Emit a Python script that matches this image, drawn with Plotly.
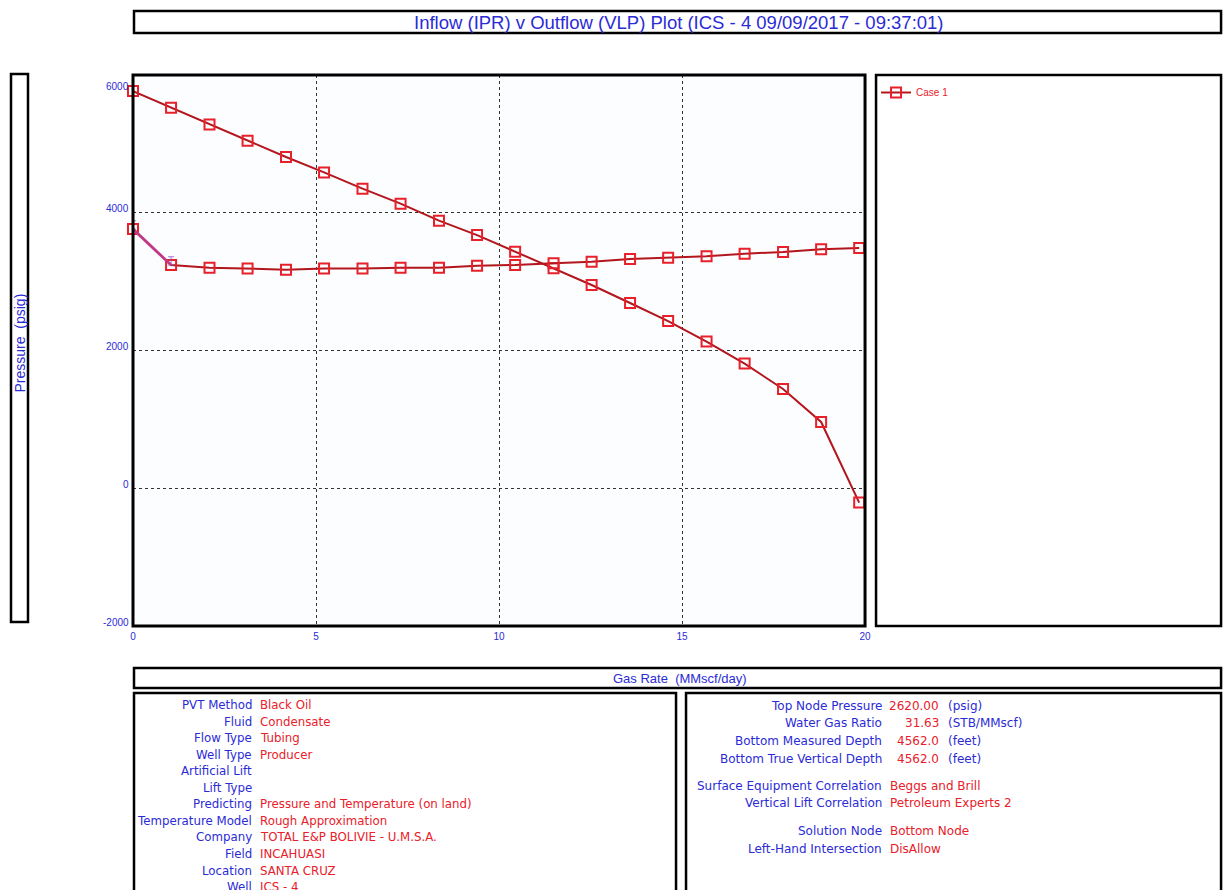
import plotly.graph_objects as go

# ---- data -------------------------------------------------------------
gas_rate = [0.0, 1.04, 2.09, 3.13, 4.18, 5.22, 6.27, 7.31, 8.36, 9.40,
            10.44, 11.49, 12.53, 13.58, 14.62, 15.67, 16.71, 17.76, 18.80, 19.84]
ipr_pressure = [5766, 5525, 5283, 5046, 4809, 4586, 4350, 4132, 3885, 3676,
                3435, 3193, 2951, 2690, 2428, 2129, 1810, 1441, 962, -208]
vlp_pressure = [3763, 3241, 3203, 3189, 3174, 3189, 3189, 3203, 3203, 3232,
                3241, 3266, 3290, 3328, 3348, 3367, 3406, 3430, 3469, 3488]
# first VLP segment (stable-region marker)
vlp_start_rate = [0.0, 1.04]
vlp_start_pressure = [3763, 3241]
vlp_start_err = [120, 120]

x_ticks = [0, 5, 10, 15, 20]
y_ticks = [-2000, 0, 2000, 4000, 6000]

title_text = "Inflow (IPR) v Outflow (VLP) Plot (ICS - 4 09/09/2017 - 09:37:01)"
x_title = "Gas Rate  (MMscf/day)"
y_title = "Pressure  (psig)"
case_name = "Case 1"

left_labels = ["PVT Method", "Fluid", "Flow Type", "Well Type", "Artificial Lift",
               "Lift Type", "Predicting", "Temperature Model", "Company", "Field",
               "Location", "Well"]
left_values = ["Black Oil", "Condensate", "Tubing", "Producer", "", "",
               "Pressure and Temperature (on land)", "Rough Approximation",
               "TOTAL E&P BOLIVIE - U.M.S.A.", "INCAHUASI", "SANTA CRUZ", "ICS - 4"]

right_labels = ["Top Node Pressure", "Water Gas Ratio", "Bottom Measured Depth",
                "Bottom True Vertical Depth", "Surface Equipment Correlation",
                "Vertical Lift Correlation", "Solution Node", "Left-Hand Intersection"]
right_numbers = ["2620.00", "31.63", "4562.0", "4562.0", "", "", "", ""]
right_units = ["(psig)", "(STB/MMscf)", "(feet)", "(feet)", "", "", "", ""]
right_texts = ["", "", "", "", "Beggs and Brill", "Petroleum Experts 2",
               "Bottom Node", "DisAllow"]

# ---- page geometry (pixels) ------------------------------------------
W, H = 1224, 890
SX, OX = 0.9926, 3.0      # horizontal screen-to-layout calibration
BLUE = "#2b2bd6"
RED = "#e8202a"
LINE_RED = "#b3161c"
NARROW = "Liberation Sans Narrow, Arial Narrow, Liberation Sans, Arial, sans-serif"
SANS = "DejaVu Sans, Verdana, sans-serif"

def px(x):
    return ((x - OX) / SX) / W

def py(y):
    return 1 - y / H

plot_l, plot_r, plot_t, plot_b = 133, 865, 75, 626

fig = go.Figure()

fig.add_trace(go.Scatter(
    x=gas_rate, y=ipr_pressure, mode="lines+markers", name=case_name,
    line=dict(color=LINE_RED, width=2),
    marker=dict(symbol="square-open", size=10, color=RED, line=dict(width=2, color=RED)),
    cliponaxis=False,
))
fig.add_trace(go.Scatter(
    x=gas_rate, y=vlp_pressure, mode="lines+markers", showlegend=False,
    line=dict(color=LINE_RED, width=2),
    marker=dict(symbol="square-open", size=10, color=RED, line=dict(width=2, color=RED)),
    cliponaxis=False,
))
fig.add_trace(go.Scatter(
    x=vlp_start_rate, y=vlp_start_pressure, mode="lines", showlegend=False,
    line=dict(color="#c0409a", width=3),
    error_y=dict(type="data", array=vlp_start_err, arrayminus=[0, 0],
                 color="#8a5ac8", thickness=1, width=3),
    opacity=0.8, cliponaxis=False,
))

shapes = []

def box(x0, y0, x1, y1, w=2.5):
    shapes.append(dict(type="rect", xref="paper", yref="paper",
                       x0=px(x0), x1=px(x1), y0=py(y1), y1=py(y0),
                       line=dict(color="black", width=w), fillcolor="rgba(0,0,0,0)",
                       layer="above"))

box(134, 11, 1221, 33)            # title box
box(11, 74, 28, 622)              # y title box
box(plot_l, plot_t, plot_r, plot_b, 3)   # plot frame
box(876, 75, 1221, 626)           # legend frame
box(134, 668, 1221, 688)          # x title box
box(134, 693, 676, 892)           # left info box
box(686, 693, 1221, 892)          # right info box

ann = []
ann.append(dict(text=title_text, x=px(679), y=py(22), xref="paper", yref="paper",
                showarrow=False, font=dict(family=NARROW, size=18.5, color=BLUE),
                xanchor="center", yanchor="middle"))
ann.append(dict(text=y_title, x=px(19.5), y=py(343), xref="paper", yref="paper",
                showarrow=False, textangle=-90, font=dict(family=NARROW, size=14, color=BLUE),
                xanchor="center", yanchor="middle"))
ann.append(dict(text=x_title, x=px(680), y=py(678), xref="paper", yref="paper",
                showarrow=False, font=dict(family=NARROW, size=13, color=BLUE),
                xanchor="center", yanchor="middle"))

# y tick labels sit just above their gridlines; the top one is kept inside the frame
for v in y_ticks:
    shift = -12 if v == max(y_ticks) else 4
    ann.append(dict(text=str(v), x=px(plot_l - 2), y=v, xref="paper", yref="y",
                    showarrow=False, font=dict(family=NARROW, size=10, color=BLUE),
                    xanchor="right", yanchor="middle", yshift=shift))

# left info block
row_y0, row_dy = 705, 16.55
for i, (lab, val) in enumerate(zip(left_labels, left_values)):
    yy = py(row_y0 + i * row_dy)
    ann.append(dict(text=lab, x=px(254), y=yy, xref="paper", yref="paper", showarrow=False,
                    font=dict(family=SANS, size=11.8, color=BLUE), xanchor="right", yanchor="middle"))
    if val:
        ann.append(dict(text=val, x=px(258), y=yy, xref="paper", yref="paper", showarrow=False,
                        font=dict(family=SANS, size=11.8, color=RED), xanchor="left", yanchor="middle"))

# right info block
right_rows_y = [706, 723, 741, 759, 786, 803, 831, 849]
for lab, num, unit, txt, yv in zip(right_labels, right_numbers, right_units, right_texts, right_rows_y):
    yy = py(yv)
    ann.append(dict(text=lab, x=px(884), y=yy, xref="paper", yref="paper", showarrow=False,
                    font=dict(family=SANS, size=12, color=BLUE), xanchor="right", yanchor="middle"))
    if num:
        ann.append(dict(text=num, x=px(941), y=yy, xref="paper", yref="paper", showarrow=False,
                        font=dict(family=SANS, size=12, color=RED), xanchor="right", yanchor="middle"))
        ann.append(dict(text=unit, x=px(946), y=yy, xref="paper", yref="paper", showarrow=False,
                        font=dict(family=SANS, size=12, color=BLUE), xanchor="left", yanchor="middle"))
    if txt:
        ann.append(dict(text=txt, x=px(888), y=yy, xref="paper", yref="paper", showarrow=False,
                        font=dict(family=SANS, size=12, color=RED), xanchor="left", yanchor="middle"))

fig.update_layout(
    width=W, height=H, autosize=False,
    margin=dict(l=0, r=0, t=0, b=0),
    paper_bgcolor="white", plot_bgcolor="#fbfdff",
    shapes=shapes, annotations=ann,
    legend=dict(x=px(876), y=py(78), xanchor="left", yanchor="top",
                bgcolor="rgba(0,0,0,0)", font=dict(family=NARROW, size=10, color=RED),
                itemwidth=30, tracegroupgap=0),
    xaxis=dict(domain=[px(plot_l), px(plot_r)], range=[0, 20], tickvals=x_ticks,
               showgrid=True, gridcolor="#333333", griddash="dot", gridwidth=1,
               zeroline=False, showline=False, ticks="", ticklabelstandoff=3,
               tickfont=dict(family=NARROW, size=10, color=BLUE)),
    yaxis=dict(domain=[py(plot_b), py(plot_t)], range=[-2000, 6000], tickvals=y_ticks,
               showgrid=True, gridcolor="#333333", griddash="dot", gridwidth=1,
               zeroline=False, showline=False, ticks="", showticklabels=False),
)

fig.write_html("out.html", config={"responsive": False})
